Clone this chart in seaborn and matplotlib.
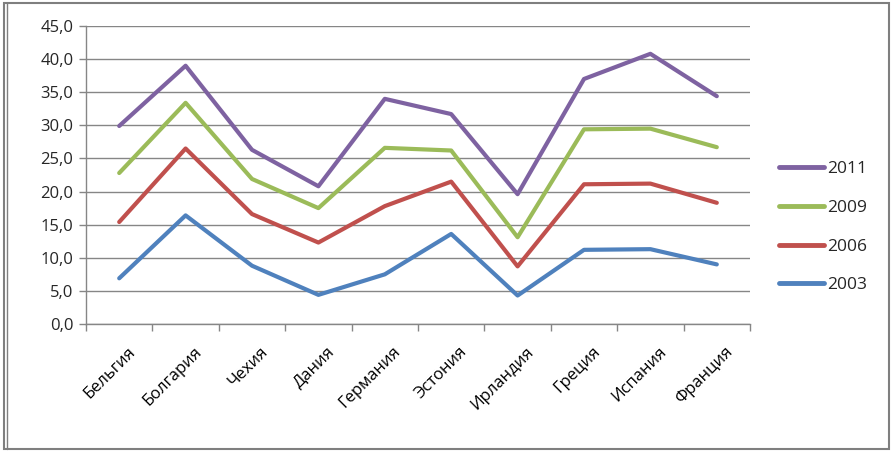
import pandas as pd
import numpy as np
import matplotlib
matplotlib.use("Agg")
import matplotlib.pyplot as plt
import seaborn as sns
from matplotlib.ticker import FuncFormatter, FixedLocator

# Data
countries = ["Бельгия", "Болгария", "Чехия", "Дания", "Германия",
             "Эстония", "Ирландия", "Греция", "Испания", "Франция"]
years = ["2011", "2009", "2006", "2003"]
v2011 = [29.9, 39.0, 26.3, 20.8, 34.0, 31.7, 19.6, 37.0, 40.8, 34.4]
v2009 = [22.8, 33.4, 21.9, 17.5, 26.6, 26.2, 13.1, 29.4, 29.5, 26.7]
v2006 = [15.4, 26.5, 16.6, 12.3, 17.8, 21.5, 8.7, 21.1, 21.2, 18.3]
v2003 = [6.9, 16.4, 8.8, 4.4, 7.5, 13.6, 4.3, 11.2, 11.3, 9.0]
colors = {"2011": "#7E62A1", "2009": "#9BBB59", "2006": "#C0504D", "2003": "#4F81BD"}

rows = []
for yr, vals in zip(years, [v2011, v2009, v2006, v2003]):
    for i, (c, v) in enumerate(zip(countries, vals)):
        rows.append({"country": c, "pos": i, "year": yr, "value": v})
df = pd.DataFrame(rows)

sns.set_style("white")
plt.rcParams["font.family"] = ["Open Sans", "DejaVu Sans"]

fig = plt.figure(figsize=(8.95, 4.51), dpi=100)
ax = fig.add_axes([86 / 895, 1 - 324 / 451, (750 - 86) / 895, (324 - 26) / 451])

sns.lineplot(data=df, x="pos", y="value", hue="year", hue_order=years,
             palette=colors, linewidth=3.0, ax=ax, legend=True)

ax.set_xlim(-0.5, 9.5)
ax.set_ylim(0, 45)
ax.set_yticks(np.arange(0, 46, 5))
ax.yaxis.set_major_formatter(FuncFormatter(lambda v, p: f"{v:.1f}".replace(".", ",")))
ax.grid(axis="y", color="#868686", linewidth=1)
ax.set_axisbelow(True)

ax.set_xticks(range(len(countries)))
ax.set_xticklabels(countries, rotation=45, ha="right", rotation_mode="anchor")
ax.xaxis.set_minor_locator(FixedLocator(np.arange(-0.5, 10, 1)))
ax.tick_params(axis="x", which="major", length=0, pad=14, labelsize=12, colors="black")
ax.tick_params(axis="x", which="minor", length=5, width=1, color="#868686", direction="out", bottom=True)
ax.tick_params(axis="y", length=5, width=1, color="#868686", direction="out", left=True, labelsize=12, pad=4)
for lbl in ax.get_xticklabels():
    lbl.set_transform(lbl.get_transform() + matplotlib.transforms.ScaledTranslation(8 / 100, 0, fig.dpi_scale_trans))

for s in ["top", "right"]:
    ax.spines[s].set_visible(False)
for s in ["left", "bottom"]:
    ax.spines[s].set_color("#868686")
    ax.spines[s].set_linewidth(1)
ax.set_xlabel("")
ax.set_ylabel("")

leg = ax.legend(loc="center left", bbox_to_anchor=(1.02, 0.325), frameon=False,
                fontsize=12.5, handlelength=2.6, handletextpad=0.15, labelspacing=1.3)
for h in leg.get_lines():
    h.set_linewidth(3.5)

# outer chart border (double line on the left like the reference)
fig.patches.append(plt.Rectangle((4 / 895, 2 / 451), 885 / 895, 446 / 451, transform=fig.transFigure,
                                 fill=False, edgecolor="#7f7f7f", linewidth=1.5))
fig.add_artist(plt.Line2D([7 / 895, 7 / 895], [2 / 451, 448 / 451], transform=fig.transFigure,
                          color="#7f7f7f", linewidth=1.0))

fig.savefig("out.png", dpi=100)
